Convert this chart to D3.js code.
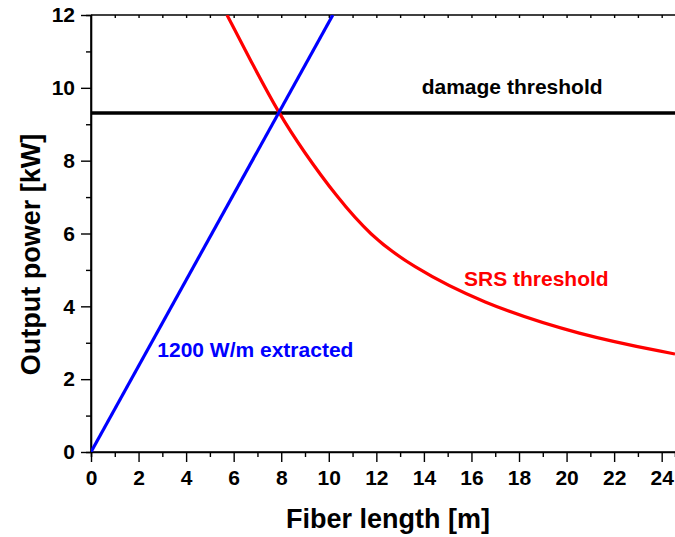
<!DOCTYPE html>
<html>
<head>
<meta charset="utf-8">
<script src="https://cdn.jsdelivr.net/npm/d3@7"></script>
<style>
  body { margin: 0; background: #fff; }
  svg { display: block; font-family: Arial, 'Liberation Sans', sans-serif; font-weight: bold; }
</style>
</head>
<body>
<div class="graphic"></div>
<script>
// values
const xTicks = [0, 2, 4, 6, 8, 10, 12, 14, 16, 18, 20, 22, 24];
const yTicks = [0, 2, 4, 6, 8, 10, 12];
const extracted = [[0, 0], [10.17, 12]];
const srs = [[5.72, 12.0], [6.84, 10.59], [7.89, 9.31], [8.94, 8.25], [10.34, 7.0],
             [11.74, 5.95], [13.42, 5.12], [16.37, 4.1], [20.57, 3.2], [24.56, 2.69]];
const damage = [[0, 9.31], [24.56, 9.31]];

const width = 675, height = 537;
const margin = {top: 15, right: 0, bottom: 85, left: 91};

const svg = d3.select('.graphic')
  .append('svg')
  .attr('width', width)
  .attr('height', height);

const x = d3.scaleLinear().domain([0, 24.56]).range([margin.left, width - margin.right]);
const y = d3.scaleLinear().domain([0, 12]).range([height - margin.bottom, margin.top]);

svg.append('clipPath').attr('id', 'plot')
  .append('rect')
  .attr('x', x(0)).attr('y', y(12))
  .attr('width', x(24.56) - x(0)).attr('height', y(0) - y(12));

const line = d3.line().x(d => x(d[0])).y(d => y(d[1]));

// axes
const xAxis = svg.append('g')
  .attr('transform', 'translate(0,' + y(0) + ')')
  .call(d3.axisBottom(x).tickValues(xTicks).tickSize(10).tickPadding(8).tickFormat(d3.format('d')));
const xMinor = svg.append('g')
  .attr('transform', 'translate(0,' + y(0) + ')')
  .call(d3.axisBottom(x).tickValues(d3.range(1, 25, 2)).tickSize(5).tickFormat(''));
const yAxis = svg.append('g')
  .attr('transform', 'translate(' + x(0) + ',0)')
  .call(d3.axisLeft(y).tickValues(yTicks).tickSize(10).tickPadding(6).tickFormat(d3.format('d')));
const yMinor = svg.append('g')
  .attr('transform', 'translate(' + x(0) + ',0)')
  .call(d3.axisLeft(y).tickValues(d3.range(1, 12, 2)).tickSize(5).tickFormat(''));
const topAxis = svg.append('g')
  .attr('transform', 'translate(0,' + y(12) + ')')
  .call(d3.axisBottom(x).tickValues(d3.range(1, 25, 1)).tickSize(3).tickFormat(''));

[xAxis, xMinor, yAxis, yMinor, topAxis].forEach(g => {
  g.select('.domain').attr('stroke', '#000').attr('stroke-width', 1.6);
  g.selectAll('.tick line').attr('stroke', '#000').attr('stroke-width', 1.4);
});
topAxis.select('.domain').attr('d', 'M' + x(0) + ',0H' + width);
xAxis.select('.domain').attr('d', 'M' + x(0) + ',0H' + width);
yAxis.select('.domain').attr('d', 'M0,' + y(0) + 'V' + y(12));
xAxis.selectAll('text').attr('font-size', 21).attr('font-weight', 'bold').attr('fill', '#000')
  .attr('font-family', 'Arial, Liberation Sans, sans-serif');
yAxis.selectAll('text').attr('font-size', 21).attr('font-weight', 'bold').attr('fill', '#000')
  .attr('font-family', 'Arial, Liberation Sans, sans-serif');

// data lines
const plot = svg.append('g').attr('clip-path', 'url(#plot)');
plot.append('path').datum(damage)
  .attr('d', line).attr('fill', 'none').attr('stroke', '#000').attr('stroke-width', 3.5);
plot.append('path').datum(srs)
  .attr('d', d3.line().x(d => x(d[0])).y(d => y(d[1])).curve(d3.curveBasis))
  .attr('fill', 'none').attr('stroke', '#ff0000').attr('stroke-width', 3.2);
plot.append('path').datum(extracted)
  .attr('d', line).attr('fill', 'none').attr('stroke', '#0000ff').attr('stroke-width', 3.2);

// labels
svg.append('text').attr('x', 421.7).attr('y', 94.3).attr('font-size', 21).attr('fill', '#000')
  .text('damage threshold');
svg.append('text').attr('x', 464).attr('y', 286).attr('font-size', 21).attr('fill', '#ff0000')
  .text('SRS threshold');
svg.append('text').attr('x', 157.3).attr('y', 356.7).attr('font-size', 21).attr('fill', '#0000ff')
  .text('1200 W/m extracted');

// axis titles
svg.append('text').attr('x', 388).attr('y', 528).attr('text-anchor', 'middle').attr('font-size', 27)
  .text('Fiber length [m]');
svg.append('text').attr('transform', 'translate(40,254.5) rotate(-90)').attr('text-anchor', 'middle')
  .attr('font-size', 27).text('Output power [kW]');
</script>
</body>
</html>
